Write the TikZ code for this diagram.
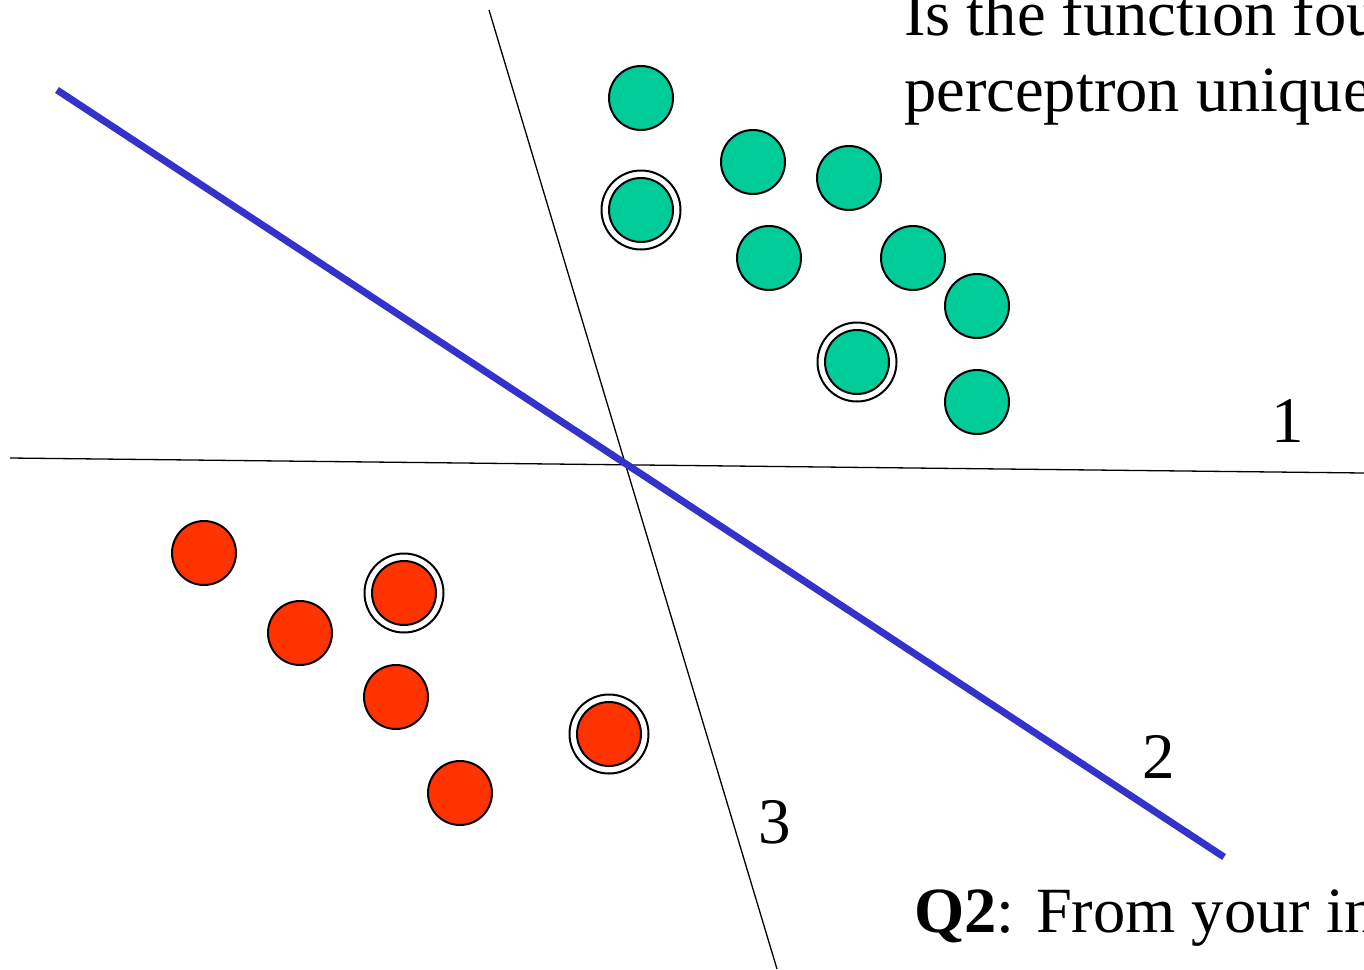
\documentclass[tikz,border=0pt]{standalone}
\usepackage{fontspec}
\setmainfont{Liberation Serif}
\definecolor{dotgreen}{RGB}{0,204,153}
\definecolor{dotred}{RGB}{255,51,0}
\definecolor{sepblue}{RGB}{51,51,204}
\tikzset{
  dot/.style={circle, draw=black, line width=2pt, minimum size=64pt, inner sep=0pt},
  gdot/.style={dot, fill=dotgreen},
  rdot/.style={dot, fill=dotred},
  ring/.style={circle, draw=black, line width=2pt, minimum size=79pt, inner sep=0pt},
  thinline/.style={black, line width=1.3pt},
  blueline/.style={sepblue, line width=7pt},
  lbl/.style={font=\fontsize{65}{75}\selectfont, inner sep=0pt},
  txt/.style={font=\fontsize{64.5}{75}\selectfont, inner sep=0pt, anchor=base west}
}
\begin{document}
\begin{tikzpicture}[x=1pt, y=-1pt]
\useasboundingbox (0,0) rectangle (1364,969);
% separating lines
\coordinate (h1) at (10,458);
\coordinate (h2) at (1364,473);
\coordinate (v1) at (489,10);
\coordinate (v2) at (777,969);
\coordinate (b1) at (57,90);
\coordinate (b2) at (1224,857);
\draw[thinline] (h1) -- (h2);
\draw[thinline] (v1) -- (v2);
\draw[blueline] (b1) -- (b2);
% green points
\node[gdot] (g1) at (641,98) {};
\node[gdot] (g2) at (753,162) {};
\node[gdot] (g3) at (849,178) {};
\node[gdot] (g4) at (641,210) {};
\node[ring] (g4r) at (641,210) {};
\node[gdot] (g5) at (769,258) {};
\node[gdot] (g6) at (913,258) {};
\node[gdot] (g7) at (977,306) {};
\node[gdot] (g8) at (857,362) {};
\node[ring] (g8r) at (857,362) {};
\node[gdot] (g9) at (977,402) {};
% red points
\node[rdot] (r1) at (204,553) {};
\node[rdot] (r2) at (404,593) {};
\node[ring] (r2r) at (404,593) {};
\node[rdot] (r3) at (300,633) {};
\node[rdot] (r4) at (396,697) {};
\node[rdot] (r5) at (609,734) {};
\node[ring] (r5r) at (609,734) {};
\node[rdot] (r6) at (460,793) {};
% line labels
\node[lbl] (l1) at (1288,421) {1};
\node[lbl] (l2) at (1159,757) {2};
\node[lbl] (l3) at (775,822) {3};
% texts
\node[txt] (t1) at (904,35) {Is the function found by perceptron};
\node[txt] (t2) at (904,111) {perceptron unique?};
\node[txt] (t3) at (914,932) {\textbf{Q2}: From your intuition};
\end{tikzpicture}
\end{document}
